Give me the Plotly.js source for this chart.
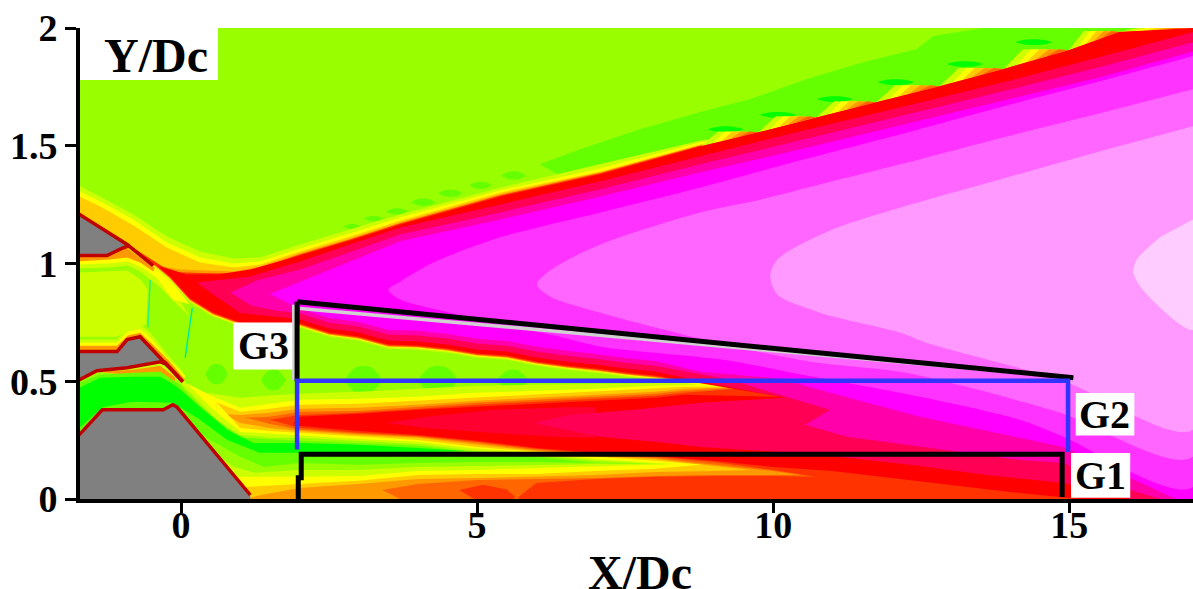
<!DOCTYPE html>
<html><head><meta charset="utf-8">
<script src="https://cdn.plot.ly/plotly-3.0.1.min.js"></script>
<style>html,body{margin:0;padding:0;background:#fff}</style></head>
<body><div id="chart" style="width:1193px;height:589px"></div>
<script>
const xMin=-1.706, xMax=17.09;
const xTicks=[0,5,10,15], yTicks=[0,0.5,1,1.5,2];
const xTickLabels=['0','5','10','15'], yTickLabels=['0','0.5','1','1.5','2'];

/* colour levels */
const cBase='#99ff00',cG1='#66ff00',cG2='#00ff00',cCc='#ccff00',cYy='#ffff00',cFc='#ffcc00',cF9='#ff9900',cF6='#ff6600',cF3='#ff3300',cRd='#ff0000',
      cP0='#ff0030',cP1='#ff0055',cP2='#ff00aa',cP3='#ff00ff',cP4='#ff33ff',cP5='#ff66ff',cP6='#ff99ff',cP7='#ffccff',cGray='#808080',cWall='#c00000';

/* shear-layer stair-steps read along the upper edge */
const stair=[[8.78,1.498],[9.75,1.557],[10.73,1.621],[11.74,1.685],[12.81,1.753],[13.89,1.826],[14.99,1.906],[15.84,1.983],[17.09,2.0]];

/* upper edges of the outer shear layer */
const topCc=[[-1.72,1.33],[-1.37,1.285],[-.81,1.209],[-.24,1.115],[.32,1.051],[.88,1.021],[1.34,1.026],[2.01,1.081],[2.86,1.145],[3.71,1.209],[5.4,1.323],[7.09,1.421],[8.78,1.522]];
const topYy=[[-1.72,1.306],[-1.37,1.264],[-.81,1.187],[-.24,1.089],[.32,1.026],[.88,1],[1.34,1.009],[2.01,1.064],[2.86,1.128],[3.71,1.196],[5.4,1.311],[7.09,1.404],[8.78,1.515]];
const topFc=[[-1.72,1.285],[-1.37,1.243],[-.81,1.162],[-.24,1.068],[.32,1.004],[.88,.983],[1.34,.996],[2.01,1.051],[2.86,1.115],[3.71,1.183],[5.4,1.302],[7.09,1.391],[8.78,1.506]];
const topF9=[[-.52,.996],[-.02,.974],[.88,.966],[1.34,.987],[2.01,1.043],[2.86,1.106],[3.7,1.174],[5.39,1.294],[7.08,1.387],[8.77,1.502]];
const topF6=[[-.3,.985],[-.02,.962],[.88,.957],[1.34,.98],[2.01,1.038],[2.86,1.102],[3.7,1.17],[5.39,1.289],[7.08,1.383],[8.77,1.5]];
const topRd=[[-.41,.99],[.1,.953],[.61,.953],[1.17,.974],[2.01,1.034],[2.86,1.098],[3.71,1.166],[5.4,1.285],[7.09,1.379],[8.78,1.498]];
const topP1=[[.27,.918],[.44,.925],[1.17,.945],[2.01,1.009],[3.7,1.153],[5.39,1.251],[7.08,1.349],[8.77,1.455],[10.46,1.562],[12.15,1.664],[13.83,1.766],[15.52,1.877],[17.09,1.983]];
const topP2=[[.83,.877],[1.3,.93],[2.01,.974],[3.7,1.123],[5.39,1.217],[7.08,1.315],[8.77,1.421],[10.46,1.523],[12.15,1.626],[13.83,1.728],[15.52,1.834],[17.09,1.94]];
const topP3=[[1.5,.87],[2.01,.923],[3.7,1.094],[5.39,1.187],[7.08,1.285],[8.77,1.387],[10.46,1.485],[12.15,1.587],[13.83,1.689],[15.52,1.791],[17.09,1.9]];
const topP4=[[3.5,.889],[3.7,.923],[4.26,1.004],[5.39,1.111],[7.08,1.217],[8.77,1.323],[10.46,1.438],[12.15,1.549],[13.83,1.664],[15.52,1.774],[17.09,1.881]];
const topP5=[[6.01,.911],[6.23,.97],[7.08,1.081],[8.77,1.217],[9.8,1.272],[10.8,1.336],[12.15,1.421],[13.83,1.532],[15.52,1.638],[17.09,1.74]];
const topP6=[[9.95,.945],[10.07,1.017],[11.01,1.145],[12.15,1.238],[13.83,1.357],[15.52,1.477],[17.09,1.583]];
const topP7=[[16.08,.962],[16.15,1.02],[16.55,1.115],[17.09,1.187]];

/* lower edges of the pink core */
const lowP4=[[17.09,.051],[14.9,.264],[14.17,.336],[12.48,.434],[10.68,.519],[9.16,.591],[7.08,.647],[6.23,.698],[5.39,.74],[4.54,.791],[3.7,.847]];
const lowP5=[[17.09,.179],[14.85,.366],[13.33,.472],[12.15,.54],[10.63,.583],[9.05,.664],[7.08,.791],[6.23,.86]];
const lowP6=[[17.09,.294],[14.85,.506],[12.58,.664],[12.15,.706],[10.79,.791],[10.07,.868]];
const lowP7=[[17.09,.719],[16.28,.877]];
const lowP3=[[17.09,0],[16.8,0],[14.9,.221],[12.48,.349],[10.96,.451],[10.12,.511],[8.77,.54]];
const lowP2=[[17.09,0],[16.54,0],[16.03,.038],[14.9,.153],[14.17,.166],[12.48,.221],[11.25,.264],[10.54,.315],[10.96,.379],[9.27,.506]];
const lowP1=[[17.09,0],[16.03,0],[14.9,.068],[13.61,.102],[12.48,.14],[11.3,.174],[10.12,.2],[8.77,.221],[8.21,.238],[7.08,.264],[5.95,.323],[6.55,.357],[7.65,.379],[8.77,.409],[10.2,.43],[8.77,.5]];
const leftP1=[[1.5,.775],[1,.79],[.54,.868]];
const leftP2=[[1.6,.8],[1.2,.82]];
const coreTongue=[[3.47,.323],[4.14,.349],[5.3,.379],[6.5,.39],[7,.39],[7,.26],[6.5,.262],[5.2,.281],[4.14,.302]];

/* lower edge of the outer jet (yellow-green contour), y at each station */
const jetX=[-.41,-.19,.15,.54,1,1.5,2,2.5,3,3.5,4,4.5,5,5.5,6,6.5,7,7.5,8];
const jetY=[.974,.928,.834,.774,.732,.728,.728,.689,.672,.638,.634,.621,.6,.591,.566,.549,.536,.519,.506];
const jetGap={cc:0,yy:.006,fc:.008,f9:.01,f6:.012,f3:.014,rd:.018,p1:.035,p2:.06,p3:.08};

/* upper edges of the central stream */
const midCc=[[-.1,.515],[.32,.455],[1,.43],[1.5,.44],[2,.447],[3,.455],[4,.468],[5,.481],[6,.485],[7,.489],[8,.492]];
const midYy=[[.1,.49],[.5,.44],[1,.387],[1.5,.404],[2,.421],[3,.426],[4,.434],[5,.451],[6,.46],[7,.468],[8,.481],[8.73,.485]];
const midFc=[[.6,.41],[1,.37],[1.5,.383],[2,.4],[3,.404],[4,.417],[5,.43],[6,.443],[7,.455],[8,.468],[8.5,.477],[9.3,.478]];
const midF9=[[.75,.36],[1,.357],[1.5,.366],[2,.383],[3,.387],[4,.4],[5,.417],[6,.43],[7,.443],[8,.455],[8.5,.468],[9.4,.475]];
const midF6=[[1.1,.345],[1.5,.349],[2,.37],[3,.374],[4,.391],[5,.409],[6,.421],[7,.434],[8,.447],[8.5,.46],[9.5,.473]];
const midF3=[[1.5,.336],[2,.357],[3,.366],[4,.383],[5,.4],[6,.413],[7,.426],[8,.438],[8.5,.451],[9.5,.47]];
const midRd=[[1.9,.32],[2,.349],[3,.362],[4,.379],[5,.391],[6,.404],[7,.417],[8,.43],[8.5,.443],[10.13,.434]];

/* near-wall valley and hill contours */
const valF3=[[1.9,.32],[2,.311],[3,.289],[4,.272],[5,.247],[6,.217],[7,.196],[8,.183],[9,.162],[10,.136],[11,.119],[12,.089],[12.5,.077],[13,.06],[14,.03],[15,.004],[15.2,0],[1.9,0]];
const valF6=[[1.5,.336],[2,.302],[3,.281],[4,.268],[5,.243],[6,.213],[7,.191],[8,.179],[9,.157],[10,.123],[10.7,.094],[10,.098],[9,.098],[8,.094],[7,.085],[6,.068],[5.7,.009],[5.7,0],[1.5,0]];
const valF9=[[1.1,.345],[1.5,.319],[2,.294],[3,.277],[4,.264],[5,.238],[6,.208],[7,.187],[8,.174],[9,.145],[10,.119],[10.47,.102],[10,.102],[9,.102],[8,.098],[7,.089],[6,.085],[5,.081],[4,.064],[3.4,.038],[3.7,0],[1.1,0]];
const valFc=[[.75,.36],[1,.323],[1.5,.302],[2,.289],[3,.272],[4,.26],[5,.23],[6,.204],[7,.183],[8,.17],[9,.14],[9.63,.123],[9,.119],[8,.115],[7,.102],[6,.094],[5,.089],[4,.085],[3,.064],[2,.047],[1.35,.017],[1.1,0],[.75,0]];
const valYy=[[.6,.41],[1,.302],[1.5,.289],[2,.281],[3,.264],[4,.251],[5,.221],[6,.2],[7,.179],[8,.162],[8.8,.145],[8,.128],[7,.119],[6,.106],[5,.106],[4,.102],[3,.077],[2,.064],[1.1,.051],[.6,0]];
const valCc=[[.1,.49],[.5,.39],[1,.285],[1.5,.277],[2,.268],[3,.255],[4,.243],[5,.213],[6,.196],[7,.17],[8,.153],[8.4,.149],[8,.145],[7,.14],[6,.132],[5,.123],[4,.119],[3,.098],[2,.094],[.95,.094],[.1,.2]];
const valLime=[[-.1,.515],[.32,.409],[.6,.336],[1,.272],[1.5,.26],[2,.26],[3,.247],[4,.234],[5,.204],[6,.187],[7,.162],[8,.149],[7,.149],[6,.145],[5,.14],[4,.136],[3,.123],[2,.123],[1.25,.111],[.9,.136],[-.1,.3]];
const valG1=[[-1.72,.494],[-1.37,.528],[-.81,.536],[-.35,.54],[-.07,.494],[.32,.395],[.78,.3],[1,.26],[2,.247],[3,.238],[4,.226],[5,.196],[6,.179],[7,.153],[6,.157],[5,.157],[4,.153],[3,.145],[2,.153],[1.4,.136],[1,.179],[.5,.25],[-.3,.37],[-1.72,.2]];
const valG2=[[-1.72,.472],[-1.37,.515],[-.81,.519],[-.35,.519],[-.07,.477],[.32,.391],[.78,.294],[1.22,.238],[2,.238],[3,.23],[4,.217],[4.8,.204],[4,.196],[3,.191],[2,.196],[1.33,.196],[.78,.251],[.32,.336],[-.14,.409],[-.81,.413],[-1.32,.391],[-1.72,.302]];
const hillBlob=[[4.7,.038],[5.1,.06],[5.5,.04],[5.65,.008],[5.6,0],[4.95,0]];

/* nozzle channel bands */
const chCc=[[-1.71,.979],[-1.2,.983],[-.91,.991],[-.69,.966],[-.35,.898],[-.07,.826],[.15,.774],[-.4,1],[-.91,1.09],[-1.72,1.1]];
const chYy=[[-1.71,.996],[-1.2,1],[-.91,1.009],[-.69,.987],[-.41,.94],[-.14,.847],[.15,.826],[-.4,1],[-.91,1.09],[-1.72,1.1]];
const chF9=[[-1.71,1.009],[-1.2,1.017],[-.91,1.026],[-.69,1.004],[-.47,.966],[-.4,1],[-.91,1.09],[-1.72,1.1]];
const chCore=[[-1.71,.962],[-.91,.97],[-.68,.932],[-.56,.889],[-.59,.74],[-.9,.715],[-1.08,.689],[-1.71,.689]];
const chLowCc=[[-1.71,.677],[-1.08,.677],[-.9,.728],[-.69,.74],[-.52,.706],[-.27,.626],[.03,.54],[.03,.498],[-1.71,.55]];
const chLowYy=[[-1.71,.664],[-1.08,.664],[-.9,.711],[-.69,.723],[-.49,.677],[-.24,.6],[.07,.523],[.03,.498],[-1.71,.55]];
const chLowF9=[[-1.71,.651],[-1.08,.651],[-.9,.694],[-.69,.706],[-.44,.647],[-.19,.583],[.07,.506],[.03,.498],[-1.71,.55]];
const underCc=[[-1.71,.502],[-1.37,.54],[-.81,.549],[-.35,.566],[-.07,.511],[.24,.43],[.03,.5],[-.5,.62],[-1.71,.62]];
const underYy=[[-1.71,.506],[-1.37,.549],[-.81,.557],[-.35,.579],[-.02,.519],[.15,.472],[.03,.5],[-.5,.62],[-1.71,.62]];
const underF9=[[-1.71,.511],[-1.37,.553],[-.81,.566],[-.35,.587],[.03,.498],[-.5,.62],[-1.71,.62]];
const streakA=[[-.52,.93],[-.56,.73]], streakB=[[.19,.81],[.07,.6]];

/* solid walls */
const wallTop=[[-1.72,1.21],[-.91,1.081],[-.86,1.077],[-1.0,1.064],[-1.25,1.034],[-1.72,1.034]];
const wallMid=[[-1.72,.626],[-1.08,.626],[-.91,.677],[-.69,.689],[.03,.498],[-.35,.583],[-.91,.557],[-1.42,.545],[-1.72,.506]];
const wallLow=[[-1.72,.272],[-1.33,.379],[-.3,.379],[-.14,.4],[-.07,.391],[1.17,.017],[1.17,0],[-1.72,0]];
const edgeA=[[-1.72,1.209],[-.91,1.081],[-.47,.991]];
const edgeB=[[-1.72,1.034],[-1.25,1.034],[-1.0,1.064],[-.86,1.077]];
const edgeC=[[-1.72,.626],[-1.08,.626],[-.91,.677],[-.69,.689],[.03,.498]];
const edgeD=[[-1.72,.506],[-1.42,.545],[-.91,.557],[-.35,.583],[-.28,.575]];
const edgeE=[[-.28,.583],[.03,.498]];
const edgeF=[[-1.72,.272],[-1.33,.379],[-.3,.379],[-.14,.4],[-.07,.391],[1.17,.017]];

/* small patches: centre x, centre y, half width, half height */
const patchesG2=[[9.2,1.57,.3,.011],[10.08,1.631,.3,.011],[11.04,1.698,.3,.011],[12.07,1.77,.3,.011],[13.24,1.847,.3,.011],[14.4,1.94,.3,.011]];
const patchesG1=[[2.89,1.157,.14,.01],[3.25,1.191,.16,.01],[3.65,1.221,.18,.012],[4.09,1.26,.2,.014],[4.55,1.298,.2,.014],[5.06,1.332,.18,.014],[5.62,1.374,.2,.016],[.6,.53,.18,.04],[1.56,.505,.2,.04],[3.08,.505,.3,.055],[4.34,.505,.32,.055],[5.6,.505,.25,.04]];

/* drawn zones */
const g3TopX=[1.96,15.07], g3TopY=[.838,.515];
const g3GrayX=[2.01,14.76], g3GrayY=[.809,.523];
const g3LeftX=[1.96,1.96], g3LeftY=[.838,.5];
const g3EdgeX=[1.9,1.9], g3EdgeY=[.825,.505];
const g2X=[1.96,1.96,14.98,14.98], g2Y=[.21,.502,.502,.2];
const g1X=[1.98,1.98,2.03,2.03,14.88,14.88], g1Y=[0,.09,.09,.19,.19,.008];

const boxes=[[-1.706,.625,1.779,2],[.88,1.88,.55,.75],[15.11,16.1,.27,.45],[15.03,16.03,.005,.195]];
const texts=[['Y/Dc',-.42,1.885,48],['G3',1.4,.65,40],['G2',15.6,.36,40],['G1',15.53,.1,40]];
const xTitle=['X/Dc',7.75,-.155,48];

const traces=[];
function fill(pts,color,smooth){traces.push({type:'scatter',mode:'lines',x:pts.map(p=>p[0]),y:pts.map(p=>p[1]),fill:'toself',fillcolor:color,line:{width:0,color:color,shape:smooth?'spline':'linear',smoothing:.8},hoverinfo:'skip',showlegend:false});}
function line(xs,ys,color,w){traces.push({type:'scatter',mode:'lines',x:xs,y:ys,line:{width:w,color:color},hoverinfo:'skip',showlegend:false});}
function stroke(pts,color,w){line(pts.map(p=>p[0]),pts.map(p=>p[1]),color,w);}
function jet(gap,from){const r=[];for(let i=jetX.length-1;i>=0;i--){if(jetX[i]>=from)r.push([jetX[i],jetY[i]+gap]);}return r;}
const rightEnd=stair.slice(1);
function outer(top,mid,gap){
  const tip=mid[0];
  return top.concat(rightEnd,[[xMax,0],[tip[0],0]],mid,jet(gap,-.41),[[-1.72,1.21]]);
}
function nose(top,low){const i=top.length-1,p=top.concat(low);return p.slice(i).concat(p.slice(0,i));}
function patches(list,color){list.forEach(p=>fill([[p[0]-p[2],p[1]],[p[0]-p[2]*.4,p[1]+p[3]],[p[0]+p[2]*.4,p[1]+p[3]],[p[0]+p[2],p[1]],[p[0]+p[2]*.4,p[1]-p[3]],[p[0]-p[2]*.4,p[1]-p[3]],[p[0]-p[2],p[1]]],color,true));}

/* base field */
fill([[xMin,0],[xMax,0],[xMax,2],[xMin,2]],cBase);
fill([[6.06,1.421],[6.74,1.485],[7.75,1.57],[8.77,1.643],[9.61,1.698],[10.57,1.783],[11.52,1.855],[12.43,1.911],[12.7,1.966],[13.55,2],[17.09,2],[17.09,1.95],[8.77,1.45],[7,1.38],[6.5,1.36]],cG1);
patches(patchesG2,cG2);
patches(patchesG1,cG1);

/* channel */
fill(chCc,cCc);fill(chYy,cYy);fill(chF9,cF9);
fill(chCore,cCc);
fill(chLowCc,cCc);fill(chLowYy,cYy);fill(chLowF9,cF9);
fill(underCc,cCc);fill(underYy,cYy);fill(underF9,cF9);

/* jet, outer levels */
fill(outer(topCc,midCc,jetGap.cc),cCc);
fill(outer(topYy,midYy,jetGap.yy),cYy);
fill(outer(topFc,midFc,jetGap.fc),cFc);
fill(outer(topF9,midF9,jetGap.f9),cF9);
fill(outer(topF6,midF6,jetGap.f6),cF6);
fill(outer(topF6,midF3,jetGap.f3),cF3);

/* stepped fans above the shear line */
const fanLeft=[0,.2,.35,.5,.65], fanApex=[.3,.42,.55,.7,.85], fanColor=[cCc,cYy,cFc,cF9,cF6];
fanColor.forEach((c,k)=>{
  for(let i=0;i<stair.length-1;i++){
    const a=stair[i],b=stair[i+1],dx=b[0]-a[0],dy=b[1]-a[1];
    fill([[a[0]+dx*fanLeft[k],a[1]+dy*fanLeft[k]],[a[0]+dx*fanApex[k],b[1]+.004],b],c);
  }
});

fill(topRd.concat(rightEnd,[[xMax,0],[midRd[0][0],0]],midRd,jet(jetGap.rd,-.41)),cRd);
fill(coreTongue,cP0);
fill(topP1.concat(lowP1,jet(jetGap.p1,2),leftP1),cP1);
fill(topP2.concat(lowP2,jet(jetGap.p2,2),leftP2),cP2);
fill(topP3.concat(lowP3,jet(jetGap.p3,2)),cP3);
fill(nose(topP4,lowP4),cP4,true);
fill(nose(topP5,lowP5),cP5,true);
fill(nose(topP6,lowP6),cP6,true);
fill(nose(topP7,lowP7),cP7,true);

/* near-wall levels */
fill(valF3,cF3);fill(valF6,cF6);fill(hillBlob,cF3);fill(valF9,cF9);fill(valFc,cFc);fill(valYy,cYy);fill(valCc,cCc);fill(valLime,cBase);fill(valG1,cG1);fill(valG2,cG2);
stroke(streakA,'#33ee77',1.5);stroke(streakB,'#00ee99',1.5);

/* walls */
fill(wallTop,cGray);fill(wallMid,cGray);fill(wallLow,cGray);
[edgeA,edgeB,edgeC,edgeD,edgeE,edgeF].forEach(e=>stroke(e,cWall,3.5));

/* zones */
line(g3EdgeX,g3EdgeY,'#d0d0d0',3);
line(g3GrayX,g3GrayY,'#d0d0d0',3.5);
line(g3TopX,g3TopY,'#000',5);
line(g3LeftX,g3LeftY,'#000',5);
line(g2X,g2Y,'#3333ff',4.5);
line(g1X,g1Y,'#000',5);

const font={family:'"Liberation Serif",serif',color:'#000'};
const layout={
  width:1193,height:589,autosize:false,paper_bgcolor:'#fff',plot_bgcolor:'#fff',showlegend:false,
  margin:{l:80,r:0,t:28,b:90,pad:0},
  xaxis:{range:[xMin,xMax],tickvals:xTicks,ticktext:xTickLabels.map(t=>'<b>'+t+'</b>'),ticks:'outside',ticklen:10,tickwidth:3,tickcolor:'#000',ticklabelstandoff:-21,
    showline:true,linewidth:4,linecolor:'#000',showgrid:false,zeroline:false,tickfont:Object.assign({size:38},font)},
  yaxis:{range:[0,2],tickvals:yTicks,ticktext:yTickLabels.map(t=>'<b>'+t+'</b>'),ticks:'outside',ticklen:11,tickwidth:3,tickcolor:'#000',
    showline:true,linewidth:4,linecolor:'#000',showgrid:false,zeroline:false,tickfont:Object.assign({size:38},font)},
  shapes:boxes.map(b=>({type:'rect',layer:'above',xref:'x',yref:'y',x0:b[0],x1:b[1],y0:b[2],y1:b[3],fillcolor:'#fff',line:{width:0}})),
  annotations:texts.map(t=>({text:'<b>'+t[0]+'</b>',x:t[1],y:t[2],xref:'x',yref:'y',showarrow:false,font:Object.assign({size:t[3]},font)}))
    .concat([{text:'<b>'+xTitle[0]+'</b>',x:xTitle[1],y:xTitle[2],xref:'x',yref:'paper',yanchor:'middle',showarrow:false,font:Object.assign({size:xTitle[3]},font)}])
};
Plotly.newPlot('chart',traces,layout,{displayModeBar:false,staticPlot:true});
</script></body></html>
